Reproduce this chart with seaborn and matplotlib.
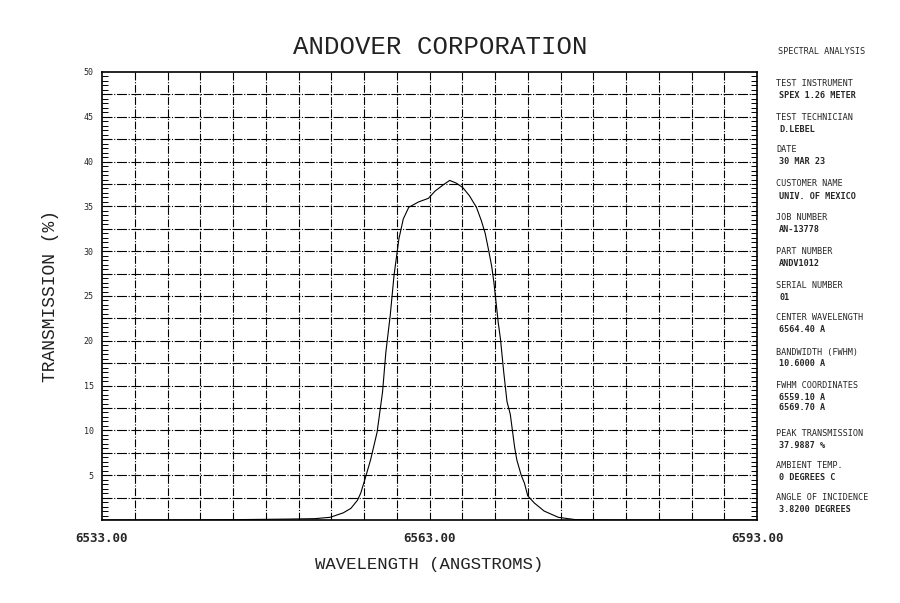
import matplotlib
matplotlib.use("Agg")
import matplotlib.pyplot as plt
import numpy as np
import pandas as pd
import seaborn as sns

# Measured filter transmission scan
wavelength = [6533.0, 6540.0, 6546.0, 6550.0, 6552.5, 6553.9, 6555.1, 6555.8,
              6556.4, 6556.7, 6557.1, 6557.6, 6558.2, 6558.7, 6559.0, 6559.4,
              6559.75, 6560.2, 6560.6, 6561.1, 6562.0, 6562.9, 6563.5, 6564.25,
              6564.85, 6565.45, 6566.05, 6566.65, 6567.3, 6567.75, 6568.1, 6568.4,
              6568.7, 6568.9, 6569.3, 6569.5, 6569.8, 6570.1, 6570.4, 6570.8,
              6571.0, 6571.4, 6571.7, 6572.0, 6572.6, 6573.5, 6574.8, 6576.3,
              6580.0, 6593.0]
transmission = [0.0, 0.0, 0.05, 0.1, 0.15, 0.3, 0.8, 1.3,
                2.2, 3.0, 4.6, 6.7, 9.8, 14.3, 18.7, 22.8,
                27.3, 31.4, 33.6, 34.9, 35.5, 35.9, 36.7, 37.4,
                37.9, 37.6, 37.1, 36.2, 34.9, 33.4, 32.0, 30.2,
                28.3, 26.5, 22.0, 20.2, 16.5, 13.2, 11.8, 8.1,
                6.7, 5.0, 4.1, 2.7, 1.9, 1.0, 0.3, 0.05,
                0.0, 0.0]

x_tick_values = [6533, 6563, 6593]
x_tick_labels = ["6533.00", "6563.00", "6593.00"]
y_tick_values = [5, 10, 15, 20, 25, 30, 35, 40, 45, 50]

report_header = "SPECTRAL ANALYSIS"
report_fields = ["TEST INSTRUMENT", "TEST TECHNICIAN", "DATE", "CUSTOMER NAME",
                 "JOB NUMBER", "PART NUMBER", "SERIAL NUMBER", "CENTER WAVELENGTH",
                 "BANDWIDTH (FWHM)", "FWHM COORDINATES", "PEAK TRANSMISSION",
                 "AMBIENT TEMP.", "ANGLE OF INCIDENCE"]
report_values = [["SPEX 1.26 METER"], ["D.LEBEL"], ["30 MAR 23"], ["UNIV. OF MEXICO"],
                 ["AN-13778"], ["ANDV1012"], ["01"], ["6564.40 A"],
                 ["10.6000 A"], ["6559.10 A", "6569.70 A"], ["37.9887 %"],
                 ["0 DEGREES C"], ["3.8200 DEGREES"]]

sns.set_style("white")
plt.rcParams["font.family"] = ["DejaVu Sans Mono", "DejaVu Sans"]

W, H = 900, 603
fig = plt.figure(figsize=(W / 100, H / 100), dpi=100)
ax = fig.add_axes([102 / W, 1 - 520 / H, (757 - 102) / W, (520 - 72) / H])

df = pd.DataFrame({"wavelength": wavelength, "transmission": transmission})
sns.lineplot(data=df, x="wavelength", y="transmission", ax=ax,
             color="black", linewidth=0.8, sort=False, zorder=3)

ax.set_xlim(6533, 6593)
ax.set_ylim(0, 50)

# grid: every 3 angstroms and every 2.5 percent
for xv in np.arange(6536, 6593, 3):
    ax.axvline(xv, color="black", linewidth=0.8,
               linestyle=(0, (7, 1.5, 1, 1.5)), zorder=1)
for yv in np.arange(2.5, 50, 2.5):
    ax.axhline(yv, color="black", linewidth=0.8,
               linestyle=(0, (9, 1.5, 1, 1.5)), zorder=1)

ax.set_xticks(x_tick_values)
ax.set_xticklabels(x_tick_labels, fontsize=9, fontweight="bold")
ax.set_yticks(y_tick_values)
ax.set_yticklabels([str(v) for v in y_tick_values], fontsize=6)
ax.tick_params(axis="both", which="major", length=0, pad=6)
ax.tick_params(axis="x", pad=9)

ax.set_yticks(np.arange(0.5, 50, 0.5), minor=True)
ax.tick_params(axis="y", which="minor", direction="in", length=4,
               width=0.7, left=True, right=True, color="black")

for s in ax.spines.values():
    s.set_visible(True)
    s.set_color("black")
    s.set_linewidth(1.2)

ax.set_xlabel("WAVELENGTH (ANGSTROMS)", fontsize=12.5, family="Liberation Mono",
              color="#222222", labelpad=8)
ax.set_ylabel("TRANSMISSION (%)", fontsize=13, family="Liberation Mono",
              color="#222222", labelpad=18)

fig.text(440 / W, 1 - 47 / H, "ANDOVER CORPORATION", fontsize=18.5,
         family="Liberation Mono", color="#222222", ha="center", va="center")

# report panel on the right
fig.text(778 / W, 1 - 52 / H, report_header, fontsize=6.1, ha="left", va="center")
label_y = [84, 117, 149, 184, 218, 252, 285, 318, 352, 385, 433, 465, 498]
for yl, name, vals in zip(label_y, report_fields, report_values):
    fig.text(776 / W, 1 - yl / H, name, fontsize=6.1, ha="left", va="center")
    for i, v in enumerate(vals):
        fig.text(779 / W, 1 - (yl + 12 + 11 * i) / H, v, fontsize=6.1,
                 fontweight="bold", ha="left", va="center")

fig.savefig("out.png", dpi=100, facecolor="white")
